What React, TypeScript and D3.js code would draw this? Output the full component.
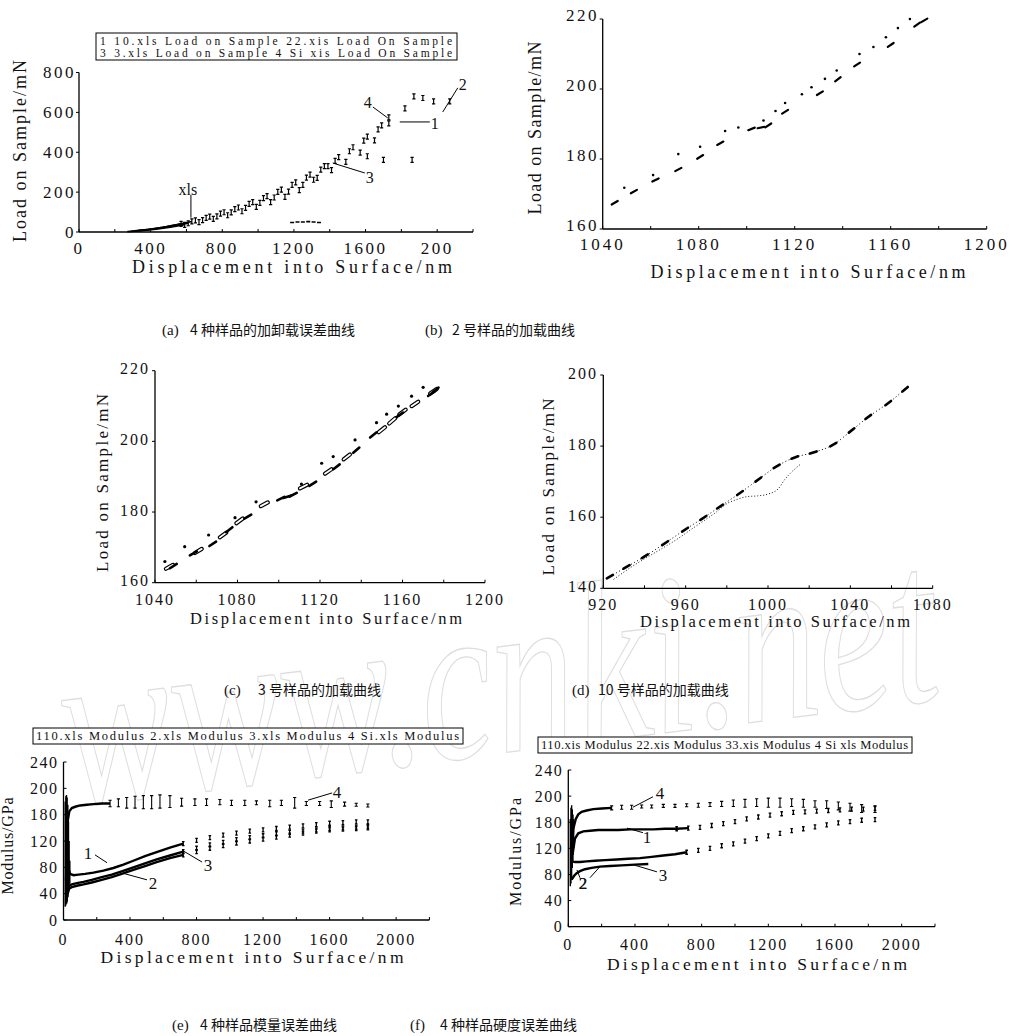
import React from "react";
import * as d3 from "d3";

const SERIF = "'Liberation Serif', 'DejaVu Serif', serif";
const CJK = "'Noto Sans CJK SC', 'Noto Sans', sans-serif";

// ---------- (a) load / unload, 4 samples ----------
const aXTicks = [0, 400, 800, 1200, 1600, 2000];
const aXText = ["0", "400", "800", "1200", "1600", "200"];
const aXMinor = [200, 600, 1000, 1400, 1800, 2200];
const aYTicks = [0, 200, 400, 600, 800];
const aS1Disp = [290, 370, 450, 530, 610, 690, 770, 850, 930, 1010, 1090, 1170, 1250, 1330, 1410, 1490, 1570, 1650, 1730];
const aS1Load = [4, 10, 19, 30, 44, 60, 78, 98, 121, 146, 173, 203, 236, 271, 310, 352, 398, 460, 545];
const aS2Disp = [330, 410, 490, 570, 650, 730, 810, 890, 970, 1050, 1130, 1210, 1290, 1370, 1450, 1530, 1610, 1690, 1820, 1870, 1920, 1980, 2070];
const aS2Load = [7, 15, 27, 41, 58, 77, 99, 123, 150, 180, 213, 249, 288, 330, 376, 425, 478, 535, 620, 680, 672, 655, 655];
const aS3Disp = [270, 350, 430, 510, 590, 670, 750, 830, 910, 990, 1070, 1150, 1230, 1310, 1390, 1610, 1700, 1860];
const aS3Load = [2, 7, 14, 24, 36, 50, 66, 84, 104, 126, 150, 176, 210, 262, 330, 380, 362, 362];
const aS4Disp = [310, 390, 470, 550, 630, 710, 790, 870, 950, 1030, 1110, 1190, 1270, 1350, 1430, 1510, 1590, 1670, 1730];
const aS4Load = [6, 13, 24, 37, 53, 71, 92, 115, 141, 170, 201, 236, 273, 313, 357, 405, 458, 515, 575];
const aUnloadDisp = [1190, 1220, 1250, 1280, 1310, 1340];
const aUnloadLoad = [48, 50, 50, 52, 50, 48];
const aNotes = [
  { t: "xls", tx: 608, ty: 216, x1: 625, y1: 186, x2: 625, y2: 72 },
  { t: "4", tx: 1613, ty: 652, x1: 1641, y1: 627, x2: 1724, y2: 572 },
  { t: "1", tx: 1987, ty: 547, x1: 1959, y1: 552, x2: 1791, y2: 552 },
  { t: "3", tx: 1624, ty: 276, x1: 1596, y1: 296, x2: 1417, y2: 346 },
  { t: "2", tx: 2143, ty: 738, x1: 2115, y1: 723, x2: 2031, y2: 602 },
];

// ---------- (b) sample 2 ----------
const bXTicks = [1040, 1080, 1120, 1160, 1200];
const bXMinor = [1060, 1100, 1140, 1180];
const bYTicks = [160, 180, 200, 220];
const bDotDisp = [1049, 1061, 1071.5, 1080.6, 1091, 1096.5, 1107, 1112, 1116, 1123, 1127, 1132.6, 1137.5, 1147, 1152.8, 1158, 1163, 1168];
const bDotLoad = [171.8, 175.4, 181.4, 183.5, 188, 189, 191, 193.7, 196, 198.5, 200.5, 202.9, 205.3, 210, 212, 214.8, 217.4, 220];
const bDashDisp = [1045, 1053, 1062, 1071.5, 1080.6, 1089, 1102, 1106, 1109, 1116, 1130.5, 1138, 1146, 1160, 1171, 1174];
const bDashLoad = [167.5, 170.7, 174, 177, 180.6, 184.5, 188.6, 189, 189.6, 193.5, 198.8, 202.8, 207, 212.6, 218.4, 219.6];

// ---------- (c) sample 3 ----------
const cXTicks = [1040, 1080, 1120, 1160, 1200];
const cXMinor = [1060, 1100, 1140, 1180];
const cYTicks = [160, 180, 200, 220];
const cDotDisp = [1044.8, 1054.4, 1066, 1078.8, 1089, 1111, 1120.8, 1126.4, 1137, 1147.4, 1152.3, 1158, 1164.4, 1170];
const cDotLoad = [166, 170.2, 173.5, 178.4, 182.9, 187.9, 193.8, 195.7, 200.4, 205.3, 207.7, 210, 212.8, 215.3];
const cFillDisp = [1048.9, 1058.6, 1068, 1076, 1085, 1101, 1104, 1107, 1116.5, 1128, 1137.6, 1145.8, 1158.7, 1174, 1176];
const cFillLoad = [164.7, 168.3, 171, 175, 178.7, 183.8, 184.3, 184.9, 188, 192.8, 197.5, 201.8, 207.5, 213.5, 214.5];
const cHollowDisp = [1047, 1061, 1073, 1081, 1093, 1112, 1124, 1133, 1150, 1155, 1160, 1166, 1175];
const cHollowLoad = [164.5, 169, 173.5, 177.5, 182.2, 187.2, 191.5, 195.6, 203.3, 205.8, 208.3, 210.6, 214.2];

// ---------- (d) sample 10 ----------
const dXTicks = [920, 960, 1000, 1040, 1080];
const dXMinor = [940, 980, 1020, 1060];
const dYTicks = [140, 160, 180, 200];
const dDashDisp = [923.2, 931.3, 940.2, 950, 959.7, 968.6, 976.7, 986.4, 995.3, 1004.2, 1013, 1022, 1031.7, 1040.6, 1048.7, 1058.4, 1066.6];
const dDashLoad = [143.3, 146, 149, 152.7, 156.5, 159.8, 163, 166.8, 170.6, 174.3, 176.8, 178.2, 180.4, 184.4, 188.2, 192.1, 196];
const dLowDisp = [925, 935, 945, 955, 965, 975, 980, 985, 990, 995, 1000, 1005, 1008, 1012, 1016];
const dLowLoad = [142.5, 146.5, 150, 153.5, 157.5, 161.5, 163.8, 165, 165.8, 166, 166.5, 168, 170.5, 173, 175];

// ---------- (e) modulus ----------
const mXTicks = [0, 400, 800, 1200, 1600, 2000];
const mXMinor = [200, 600, 1000, 1400, 1800, 2200];
const mYTicks = [0, 40, 80, 120, 160, 200, 240];
const mYText = ["0", "40", "80", "120", "180", "200", "240"];
const eS1Disp = [20, 30, 40, 60, 90, 130, 180, 240, 300, 360, 420, 490, 560, 640, 720, 800, 880, 960, 1040, 1120, 1200, 1280, 1360, 1440, 1520, 1600, 1680, 1760, 1830];
const eS1Val = [120, 78, 70, 68, 69, 70, 72, 75, 79, 84, 90, 97, 103, 110, 116, 121, 125, 129, 132, 135, 137, 139, 141, 143, 145, 147, 148, 149, 149];
const eS2Disp = [15, 25, 35, 50, 80, 120, 170, 230, 290, 350, 420, 490, 560, 640, 720, 800, 880, 960, 1040, 1120, 1200, 1280, 1360, 1440, 1520, 1600, 1680, 1760, 1830];
const eS2Val = [30, 45, 52, 54, 56, 58, 61, 65, 69, 74, 80, 86, 92, 98, 104, 109, 114, 118, 122, 125, 128, 131, 133, 135, 137, 139, 140, 141, 142];
const eS3Val = [25, 40, 48, 50, 52, 54, 57, 61, 65, 70, 76, 82, 88, 94, 99, 104, 109, 113, 117, 120, 123, 126, 129, 132, 135, 137, 138, 139, 140];
const eS4Disp = [15, 25, 35, 50, 70, 100, 140, 180, 230, 280, 330, 380, 430, 480, 530, 580, 640, 710, 790, 860, 940, 1010, 1090, 1160, 1240, 1310, 1390, 1460, 1540, 1610, 1690, 1760, 1830];
const eS4Val = [60, 150, 165, 170, 172, 174, 175, 176, 177, 177, 178, 178, 179, 179, 179, 180, 180, 179, 179, 179, 179, 178, 178, 178, 177, 178, 178, 177, 177, 176, 176, 175, 174];
const eS4Err = [40, 30, 15, 8, 6, 5, 4, 4, 4, 5, 6, 8, 9, 10, 10, 10, 9, 6, 5, 5, 4, 4, 4, 3, 5, 4, 8, 3, 3, 5, 3, 2, 2];
const eBandDisp = [10, 14, 18, 22, 26, 30, 34, 38];
const eBandLow = [20, 22, 25, 28, 35, 45, 50, 55];
const eBandHigh = [180, 188, 190, 186, 175, 150, 120, 90];
const eNotes = [
  { t: "1", tx: 147, ty: 102, x1: 189, y1: 99, x2: 262, y2: 87 },
  { t: "2", tx: 538, ty: 56, x1: 502, y1: 61, x2: 358, y2: 71 },
  { t: "3", tx: 869, ty: 84, x1: 833, y1: 88, x2: 713, y2: 106 },
  { t: "4", tx: 1645, ty: 195, x1: 1615, y1: 193, x2: 1470, y2: 182 },
];

// ---------- (f) hardness ----------
const fS1Disp = [25, 40, 60, 90, 130, 180, 240, 300, 370, 440, 510, 580, 650, 720, 790, 860, 930, 1000, 1070, 1140, 1210, 1280, 1350, 1420, 1490, 1560, 1630, 1700, 1770, 1840];
const fS1Val = [110, 135, 143, 146, 147, 148, 148, 148, 149, 149, 149, 150, 150, 151, 152, 155, 158, 161, 165, 168, 171, 173, 175, 176, 177, 178, 179, 180, 180, 181];
const fS2Disp = [20, 35, 50, 70, 100, 140, 190, 250, 320, 400, 480];
const fS2Val = [72, 78, 82, 85, 88, 90, 92, 93, 94, 95, 96];
const fS3Disp = [20, 40, 70, 110, 160, 220, 290, 360, 430, 500, 570, 640, 710, 780, 850, 920, 990, 1060, 1130, 1200, 1270, 1340, 1410, 1480, 1550, 1620, 1690, 1760, 1840];
const fS3Val = [100, 99, 99, 100, 101, 102, 103, 104, 105, 107, 109, 111, 114, 117, 120, 124, 127, 131, 135, 139, 143, 147, 150, 153, 156, 159, 161, 163, 164];
const fS4Disp = [20, 30, 45, 60, 80, 110, 150, 200, 260, 320, 380, 440, 500, 570, 640, 710, 780, 850, 920, 990, 1060, 1130, 1200, 1270, 1340, 1410, 1480, 1550, 1620, 1690, 1760, 1840];
const fS4Val = [120, 150, 165, 172, 176, 178, 180, 181, 182, 183, 183, 184, 184, 185, 185, 186, 186, 187, 188, 189, 189, 190, 190, 190, 190, 189, 188, 187, 185, 183, 181, 180];
const fS4Err = [20, 15, 10, 6, 5, 4, 4, 3, 3, 3, 3, 2, 2, 2, 2, 2, 3, 3, 4, 5, 6, 6, 7, 7, 6, 6, 5, 6, 6, 6, 6, 5];
const fBandDisp = [12, 16, 20, 24, 28, 32];
const fBandLow = [62, 66, 72, 90, 100, 120];
const fBandHigh = [165, 182, 186, 180, 172, 165];
const fNotes = [
  { t: "4", tx: 550, ty: 205, x1: 508, y1: 199, x2: 388, y2: 183 },
  { t: "1", tx: 472, ty: 137, x1: 448, y1: 144, x2: 352, y2: 151 },
  { t: "3", tx: 568, ty: 79, x1: 532, y1: 84, x2: 388, y2: 95 },
  { t: "2", tx: 88, ty: 67, x1: 130, y1: 75, x2: 190, y2: 92 },
  { t: "2", tx: 88, ty: 67, x1: 70, y1: 75, x2: 52, y2: 87 },
];

type S = d3.ScaleLinear<number, number>;
type Note = { t: string; tx: number; ty: number; x1: number; y1: number; x2: number; y2: number };

const numStyle = { fontFamily: SERIF, fill: "#111" } as const;

function XAxis({ x, y0, major, text, minor, labelY, fs = 16, ls = 2.5 }: {
  x: S; y0: number; major: number[]; text: string[]; minor: number[]; labelY: number; fs?: number; ls?: number;
}) {
  const [r0, r1] = x.range();
  return (
    <g>
      <line x1={r0} x2={r1} y1={y0} y2={y0} stroke="#000" strokeWidth={1.3} />
      {[...major, ...minor].map((v, i) => (
        <line key={i} x1={x(v)} x2={x(v)} y1={y0} y2={y0 - 3} stroke="#000" strokeWidth={1} />
      ))}
      {major.map((v, i) => (
        <text key={"t" + i} x={x(v)} y={labelY} textAnchor="middle" fontSize={fs} letterSpacing={ls} style={numStyle}>
          {text[i]}
        </text>
      ))}
    </g>
  );
}

function YAxis({ y, x0, major, text, labelX, fs = 16, ls = 2.5, inward = false, lift = 0 }: {
  y: S; x0: number; major: number[]; text: string[]; labelX: number; fs?: number; ls?: number; inward?: boolean; lift?: number;
}) {
  const [r0, r1] = y.range();
  const d = inward ? 3 : -3;
  return (
    <g>
      <line x1={x0} x2={x0} y1={r0} y2={r1} stroke="#000" strokeWidth={1.3} />
      {major.map((v, i) => (
        <line key={i} x1={x0} x2={x0 + d} y1={y(v)} y2={y(v)} stroke="#000" strokeWidth={1} />
      ))}
      {major.map((v, i) => (
        <text key={"t" + i} x={labelX} y={y(v) - lift} dy="0.35em" textAnchor="end" fontSize={fs} letterSpacing={ls} style={numStyle}>
          {text[i]}
        </text>
      ))}
    </g>
  );
}

function XTitle({ cx, y, len, fs = 18 }: { cx: number; y: number; len: number; fs?: number }) {
  return (
    <text x={cx} y={y} textAnchor="middle" fontSize={fs} textLength={len} lengthAdjust="spacing" style={numStyle}>
      Displacement into Surface/nm
    </text>
  );
}

function YTitle({ cx, cy, len, label, fs = 18 }: { cx: number; cy: number; len: number; label: string; fs?: number }) {
  return (
    <text transform={`translate(${cx},${cy}) rotate(-90)`} textAnchor="middle" dy="0.35em" fontSize={fs}
      textLength={len} lengthAdjust="spacing" style={numStyle}>
      {label}
    </text>
  );
}

function Notes({ x, y, notes, fs = 16 }: { x: S; y: S; notes: Note[]; fs?: number }) {
  return (
    <g>
      {notes.map((n, i) => (
        <g key={i}>
          <line x1={x(n.x1)} y1={y(n.y1)} x2={x(n.x2)} y2={y(n.y2)} stroke="#000" strokeWidth={1} />
          <text x={x(n.tx)} y={y(n.ty)} dy="0.35em" textAnchor="middle" fontSize={fs} style={numStyle}>{n.t}</text>
        </g>
      ))}
    </g>
  );
}

// small "I" glyph used as point marker
function ibar(cx: number, cy: number, h: number, w = 1.6) {
  return `M${cx - w},${cy - h}h${2 * w}M${cx},${cy - h}v${2 * h}M${cx - w},${cy + h}h${2 * w}`;
}

function Dashes({ x, y, xs, ys, len = 8, w = 2.4, hollow = false }: {
  x: S; y: S; xs: number[]; ys: number[]; len?: number; w?: number; hollow?: boolean;
}) {
  const pts = xs.map((v, i) => [x(v), y(ys[i])]);
  const segs = pts.map((p, i) => {
    const a = pts[Math.max(0, i - 1)];
    const b = pts[Math.min(pts.length - 1, i + 1)];
    const ang = Math.atan2(b[1] - a[1], b[0] - a[0]);
    const dx = (Math.cos(ang) * len) / 2;
    const dy = (Math.sin(ang) * len) / 2;
    return `M${p[0] - dx},${p[1] - dy}L${p[0] + dx},${p[1] + dy}`;
  });
  return (
    <g>
      {segs.map((d, i) => (
        <path key={i} d={d} stroke="#000" strokeWidth={hollow ? w + 1.2 : w} strokeLinecap="round" fill="none" />
      ))}
      {hollow && segs.map((d, i) => (
        <path key={"h" + i} d={d} stroke="#fff" strokeWidth={w - 1.2} strokeLinecap="round" fill="none" />
      ))}
    </g>
  );
}

function PanelA() {
  const x = d3.scaleLinear().domain([0, 2200]).range([79, 473]);
  const y = d3.scaleLinear().domain([0, 800]).range([232, 72.5]);
  const series = [
    [aS1Disp, aS1Load],
    [aS2Disp, aS2Load],
    [aS3Disp, aS3Load],
    [aS4Disp, aS4Load],
  ];
  const line = d3.line<[number, number]>().x((d) => x(d[0])).y((d) => y(d[1]));
  return (
    <g>
      <rect x={96} y={33} width={361} height={27} fill="#fff" stroke="#000" strokeWidth={1} />
      <text x={100} y={44.5} fontSize={11.5} textLength={352} lengthAdjust="spacing" style={numStyle}>
        1 10.xls Load on Sample 22.xis Load On Sample
      </text>
      <text x={100} y={57} fontSize={11.5} textLength={352} lengthAdjust="spacing" style={numStyle}>
        3 3.xls Load on Sample 4 Si xis Load On Sample
      </text>
      <XAxis x={x} y0={232} major={aXTicks} text={aXText} minor={aXMinor} labelY={254} fs={17} />
      <YAxis y={y} x0={79} major={aYTicks} text={aYTicks.map(String)} labelX={76} fs={17} />
      <XTitle cx={292} y={273} len={320} fs={18} />
      <YTitle cx={20} cy={151} len={182} label="Load on Sample/mN" fs={18} />
      {series.map(([xs, ys], k) => (
        <path key={"l" + k} fill="none" stroke="#000" strokeWidth={1.6}
          d={line(xs.map((v, i) => [v, ys[i]] as [number, number]).filter((p) => p[0] <= 640)) || ""} />
      ))}
      {series.map(([xs, ys], k) => (
        <path key={"m" + k} fill="none" stroke="#000" strokeWidth={1.2}
          d={xs.map((v, i) => (v > 560 ? ibar(x(v), y(ys[i]), 2.5) : "")).join("")} />
      ))}
      <path fill="none" stroke="#000" strokeWidth={1.6}
        d={aUnloadDisp.map((v, i) => `M${x(v) - 2},${y(aUnloadLoad[i])}h4`).join("")} />
      <Notes x={x} y={y} notes={aNotes} fs={16} />
    </g>
  );
}

function PanelB() {
  const x = d3.scaleLinear().domain([1040, 1200]).range([602.7, 986.7]);
  const y = d3.scaleLinear().domain([160, 220]).range([229, 19]);
  return (
    <g>
      <XAxis x={x} y0={229} major={bXTicks} text={bXTicks.map(String)} minor={bXMinor} labelY={250} fs={17} ls={3} />
      <YAxis y={y} x0={602.7} major={bYTicks} text={bYTicks.map(String)} labelX={599} fs={17} ls={2.5} lift={4} />
      <XTitle cx={808} y={278} len={315} fs={18} />
      <YTitle cx={535} cy={128} len={173} label="Load on Sample/mN" fs={18} />
      {bDotDisp.map((v, i) => (
        <circle key={i} cx={x(v)} cy={y(bDotLoad[i])} r={1.3} fill="#000" />
      ))}
      <Dashes x={x} y={y} xs={bDashDisp} ys={bDashLoad} len={7} w={2.2} />
    </g>
  );
}

function PanelC() {
  const x = d3.scaleLinear().domain([1040, 1200]).range([155, 485]);
  const y = d3.scaleLinear().domain([160, 220]).range([582.7, 370.7]);
  return (
    <g>
      <XAxis x={x} y0={582.7} major={cXTicks} text={cXTicks.map(String)} minor={cXMinor} labelY={605} fs={16} ls={2} />
      <YAxis y={y} x0={155} major={cYTicks} text={cYTicks.map(String)} labelX={150} fs={16} ls={2} lift={2} />
      <XTitle cx={326} y={624} len={272} fs={16.5} />
      <YTitle cx={102} cy={483} len={178} label="Load on Sample/mN" fs={17} />
      {cDotDisp.map((v, i) => (
        <circle key={i} cx={x(v)} cy={y(cDotLoad[i])} r={1.6} fill="#000" />
      ))}
      <Dashes x={x} y={y} xs={cHollowDisp} ys={cHollowLoad} len={8} w={3} hollow />
      <Dashes x={x} y={y} xs={cFillDisp} ys={cFillLoad} len={8} w={2.6} />
    </g>
  );
}

function PanelD() {
  const x = d3.scaleLinear().domain([920, 1080]).range([603.3, 932.7]);
  const y = d3.scaleLinear().domain([140, 200]).range([588.3, 375]);
  const line = d3.line<number>().x((d) => x(d)).curve(d3.curveMonotoneX);
  return (
    <g>
      <XAxis x={x} y0={588.3} major={dXTicks} text={dXTicks.map(String)} minor={dXMinor} labelY={610} fs={16} ls={2} />
      <YAxis y={y} x0={603.3} major={dYTicks} text={dYTicks.map(String)} labelX={598} fs={16} ls={2} lift={2} />
      <XTitle cx={775} y={627} len={270} fs={16.5} />
      <YTitle cx={548} cy={487} len={177} label="Load on Sample/mN" fs={17} />
      <path fill="none" stroke="#000" strokeWidth={1} strokeDasharray="1 2.5"
        d={line.y((_, i) => y(dDashLoad[i]))(dDashDisp) || ""} />
      <path fill="none" stroke="#000" strokeWidth={0.9} strokeDasharray="1 2"
        d={line.y((_, i) => y(dLowLoad[i]))(dLowDisp) || ""} />
      <Dashes x={x} y={y} xs={dDashDisp} ys={dDashLoad} len={7} w={2.6} />
    </g>
  );
}

function ModPanel({ x, y, x0, y0, legend, lgBox, seriesPlain, s4, band, notes, titleX, titleY, xLabelY }: {
  x: S; y: S; x0: number; y0: number; legend: string; lgBox: [number, number, number, number];
  seriesPlain: [number[], number[]][]; s4: [number[], number[], number[]];
  band: [number[], number[], number[]]; notes: Note[]; titleX: [number, number, number];
  titleY: [number, number, number]; xLabelY: number;
}) {
  const line = d3.line<[number, number]>().x((d) => x(d[0])).y((d) => y(d[1]));
  const [bx, by, bw, bh] = lgBox;
  const [s4x, s4v, s4e] = s4;
  return (
    <g>
      <rect x={bx} y={by} width={bw} height={bh} fill="#fff" stroke="#000" strokeWidth={1} />
      <text x={bx + 3} y={by + bh - 4} fontSize={12.5} textLength={bw - 7} lengthAdjust="spacing" style={numStyle}>
        {legend}
      </text>
      <XAxis x={x} y0={y0} major={mXTicks} text={mXTicks.map(String)} minor={mXMinor} labelY={xLabelY} fs={16} ls={2} />
      <YAxis y={y} x0={x0} major={mYTicks} text={mYText} labelX={x0 - 5} fs={16} ls={1.5} inward />
      <XTitle cx={titleX[0]} y={titleX[1]} len={titleX[2]} fs={17.5} />
      <YTitle cx={titleY[0]} cy={titleY[1]} len={titleY[2]} label="Modulus/GPa" fs={16} />
      <path fill="none" stroke="#000" strokeWidth={1.4}
        d={band[0].map((v, i) => `M${x(v)},${y(band[1][i])}V${y(band[2][i])}`).join("")} />
      {seriesPlain.map(([xs, ys], k) => (
        <g key={k}>
          <path fill="none" stroke="#000" strokeWidth={2.4}
            d={line(xs.map((v, i) => [v, ys[i]] as [number, number]).filter((p) => p[0] <= 720)) || ""} />
          <path fill="none" stroke="#000" strokeWidth={1.3}
            d={xs.map((v, i) => (v > 640 ? ibar(x(v), y(ys[i]), 2, 1.3) : "")).join("")} />
        </g>
      ))}
      <path fill="none" stroke="#000" strokeWidth={2.4}
        d={line(s4x.map((v, i) => [v, s4v[i]] as [number, number]).filter((p) => p[0] <= 300)) || ""} />
      <path fill="none" stroke="#000" strokeWidth={1.1}
        d={s4x.map((v, i) => {
          const cy = y(s4v[i]);
          const h = Math.max(1.5, cy - y(s4v[i] + s4e[i]));
          return v > 250 ? ibar(x(v), cy, h, 1.6) : "";
        }).join("")} />
      <Notes x={x} y={y} notes={notes} fs={17} />
    </g>
  );
}

function Watermark() {
  return (
    <text transform="translate(70,806) rotate(-7)" fontSize={230} fontStyle="italic" fill="none"
      stroke="#dedede" strokeWidth={1.3} textLength={880} lengthAdjust="spacingAndGlyphs" style={{ fontFamily: SERIF }}>
      www.cnki.net
    </text>
  );
}

function Caption({ x1, x2, y, tag, text }: { x1: number; x2: number; y: number; tag: string; text: string }) {
  return (
    <g>
      <text x={x1} y={y} fontSize={15} style={{ fontFamily: SERIF, fill: "#111" }}>{tag}</text>
      <text x={x2} y={y} fontSize={14} style={{ fontFamily: CJK, fill: "#111" }}>{text}</text>
    </g>
  );
}

export default function App() {
  const xE = d3.scaleLinear().domain([0, 2200]).range([63.5, 429.4]);
  const yE = d3.scaleLinear().domain([0, 240]).range([920, 762]);
  const xF = d3.scaleLinear().domain([0, 2200]).range([568.3, 935]);
  const yF = d3.scaleLinear().domain([0, 240]).range([926.7, 770]);
  return (
    <div style={{ position: "absolute", left: 0, top: 0 }}>
      <svg width={1029} height={1036} viewBox="0 0 1029 1036" style={{ display: "block", background: "#fff" }}>
        <rect width={1029} height={1036} fill="#fff" />
        <Watermark />
        <PanelA />
        <PanelB />
        <PanelC />
        <PanelD />
        <ModPanel x={xE} y={yE} x0={63.5} y0={920}
          legend="110.xls Modulus 2.xls Modulus 3.xls Modulus 4 Si.xls Modulus"
          lgBox={[33, 728, 430, 16]}
          seriesPlain={[[eS1Disp, eS1Val], [eS2Disp, eS2Val], [eS2Disp, eS3Val]]}
          s4={[eS4Disp, eS4Val, eS4Err]}
          band={[eBandDisp, eBandLow, eBandHigh]}
          notes={eNotes} titleX={[252, 963, 303]} titleY={[7, 846, 97]} xLabelY={945} />
        <ModPanel x={xF} y={yF} x0={568.3} y0={926.7}
          legend="110.xis Modulus 22.xis Modulus 33.xis Modulus 4 Si xls Modulus"
          lgBox={[538, 737, 374, 16]}
          seriesPlain={[[fS1Disp, fS1Val], [fS2Disp, fS2Val], [fS3Disp, fS3Val]]}
          s4={[fS4Disp, fS4Val, fS4Err]}
          band={[fBandDisp, fBandLow, fBandHigh]}
          notes={fNotes} titleX={[757, 970, 300]} titleY={[515, 852, 108]} xLabelY={950} />
        <Caption x1={162} x2={190} y={335} tag="(a)" text="4 种样品的加卸载误差曲线" />
        <Caption x1={425} x2={452} y={335} tag="(b)" text="2 号样品的加载曲线" />
        <Caption x1={224} x2={258} y={695} tag="(c)" text="3 号样品的加载曲线" />
        <Caption x1={572} x2={598} y={695} tag="(d)" text="10 号样品的加载曲线" />
        <Caption x1={172} x2={200} y={1030} tag="(e)" text="4 种样品模量误差曲线" />
        <Caption x1={410} x2={440} y={1030} tag="(f)" text="4 种样品硬度误差曲线" />
      </svg>
    </div>
  );
}
